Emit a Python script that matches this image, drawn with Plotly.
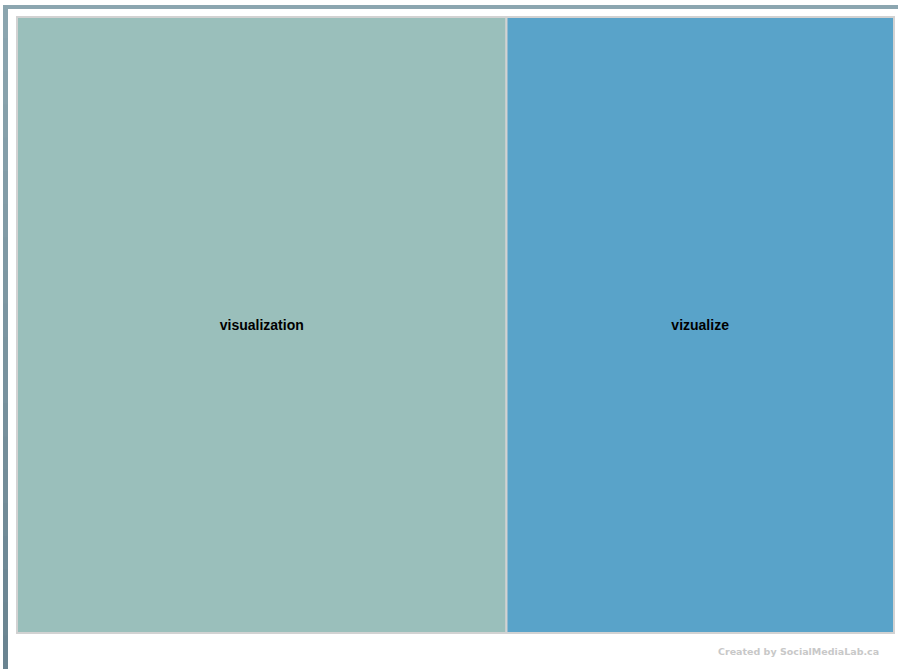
import plotly.graph_objects as go

W, H = 898, 669

labels = ["visualization", "vizualize"]
values = [24, 19]
colors = ["#9abfbb", "#59a3c9"]

def px_x(x):
    return x / W

def px_y(y):
    return 1 - y / H

fig = go.Figure(go.Treemap(
    labels=labels,
    parents=["", ""],
    values=values,
    marker=dict(colors=colors, line=dict(color="#d2d2d2", width=2), pad=dict(t=0, l=0, r=0, b=0)),
    tiling=dict(packing="squarify", pad=0),
    pathbar=dict(visible=False),
    texttemplate="<b>%{label}</b>",
    textposition="middle center",
    textfont=dict(family="Liberation Sans, Arial", size=14, color="#000000"),
    hoverinfo="label+value",
    root=dict(color="rgba(0,0,0,0)"),
    sort=True,
    domain=dict(x=[px_x(17), px_x(894)], y=[px_y(633), px_y(17)]),
))

shapes = []
# top frame bar
shapes.append(dict(type="rect", xref="paper", yref="paper", x0=px_x(3), x1=1.0,
                   y0=px_y(9), y1=px_y(5), line=dict(width=0), fillcolor="#8ca6b0", layer="below"))
# left frame bar with simulated vertical gradient
n = 20
top_c = (0x8c, 0xa6, 0xb0)
bot_c = (0x69, 0x83, 0x90)
for i in range(n):
    t = (i + 0.5) / n
    c = tuple(int(round(a + (b - a) * t)) for a, b in zip(top_c, bot_c))
    y0 = 5 + (H - 5) * i / n
    y1 = 5 + (H - 5) * (i + 1) / n + 1
    shapes.append(dict(type="rect", xref="paper", yref="paper", x0=px_x(3), x1=px_x(8),
                       y0=px_y(min(y1, H)), y1=px_y(y0), line=dict(width=0),
                       fillcolor="rgb(%d,%d,%d)" % c, layer="below"))

fig.update_layout(
    width=W, height=H, autosize=False,
    margin=dict(l=0, r=0, t=0, b=0),
    paper_bgcolor="#ffffff",
    shapes=shapes,
    annotations=[dict(text="<b>Created by SocialMediaLab.ca</b>", xref="paper", yref="paper",
                      x=px_x(881), y=px_y(651), xanchor="right", yanchor="middle",
                      showarrow=False, font=dict(family="DejaVu Sans", size=9.5, color="#c8c8c8"))],
)

fig.write_html("out.html", config={"displayModeBar": False},
               post_script="document.body.style.margin='0';document.body.style.overflow='hidden';")
